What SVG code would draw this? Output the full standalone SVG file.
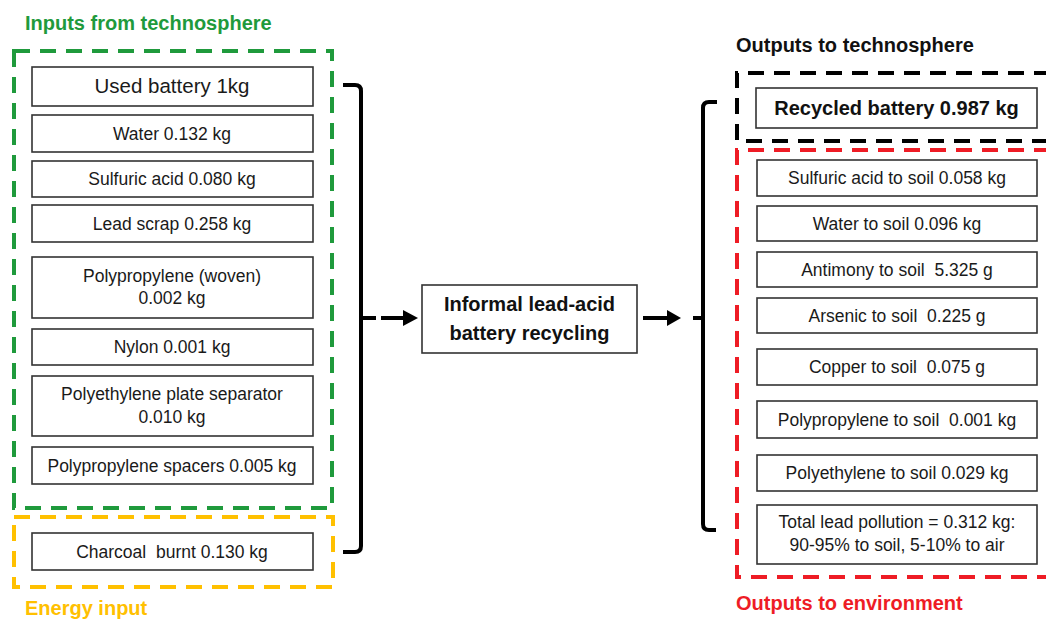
<svg xmlns="http://www.w3.org/2000/svg" width="1046" height="620" viewBox="0 0 1046 620">
<style>
.box{fill:#fff;stroke:#333;stroke-width:1.6}
.t{font-family:"Liberation Sans",Arial,sans-serif;font-size:17.5px;fill:#1a1a1a;text-anchor:middle;white-space:pre}
.b{font-family:"Liberation Sans",Arial,sans-serif;font-size:20px;font-weight:bold;text-anchor:middle;fill:#111}
.title{font-family:"Liberation Sans",Arial,sans-serif;font-size:20px;font-weight:bold}
.dash{fill:none;stroke-width:4;stroke-dasharray:16 10}
.brace{fill:none;stroke:#000;stroke-width:4}
</style>
<rect width="1046" height="620" fill="#fff"/>
<g id="frames">
<rect class="dash" x="14" y="51" width="318" height="457" stroke="#1f9a3c"/>
<rect class="dash" x="14" y="517" width="319" height="70" stroke="#ffc000"/>
<path class="dash" d="M1050,73 H737 V141 H1050" stroke="#000"/>
<path class="dash" d="M1050,150 H737 V577 H1050" stroke="#ee1c25"/>
<text class="title" x="25" y="30" fill="#1f9a3c">Inputs from technosphere</text>
<text class="title" x="25" y="615" fill="#ffc000">Energy input</text>
<text class="title" x="736" y="52" fill="#111">Outputs to technosphere</text>
<text class="title" x="736" y="610" fill="#ee1c25">Outputs to environment</text>
</g>
<g id="in-used-battery"><rect class="box" x="32" y="67" width="281" height="39"/><text class="t" x="172" y="93" style="font-size:20.5px">Used battery 1kg</text></g>
<g id="in-water"><rect class="box" x="32" y="115" width="281" height="37"/><text class="t" x="172" y="140">Water 0.132 kg</text></g>
<g id="in-sulfuric"><rect class="box" x="32" y="161" width="281" height="36"/><text class="t" x="172" y="185">Sulfuric acid 0.080 kg</text></g>
<g id="in-lead-scrap"><rect class="box" x="32" y="205" width="281" height="37"/><text class="t" x="172" y="230">Lead scrap 0.258 kg</text></g>
<g id="in-pp-woven"><rect class="box" x="32" y="257" width="281" height="61"/><text class="t" x="172" y="282">Polypropylene (woven)</text><text class="t" x="172" y="304">0.002 kg</text></g>
<g id="in-nylon"><rect class="box" x="32" y="329" width="281" height="36"/><text class="t" x="172" y="353">Nylon 0.001 kg</text></g>
<g id="in-pe-separator"><rect class="box" x="32" y="376" width="281" height="60"/><text class="t" x="172" y="400">Polyethylene plate separator</text><text class="t" x="172" y="423">0.010 kg</text></g>
<g id="in-pp-spacers"><rect class="box" x="32" y="447" width="281" height="37"/><text class="t" x="172" y="472">Polypropylene spacers 0.005 kg</text></g>
<g id="in-charcoal"><rect class="box" x="32" y="533" width="281" height="37"/><text class="t" x="172" y="558" xml:space="preserve">Charcoal  burnt 0.130 kg</text></g>
<g id="process"><rect class="box" x="422" y="285" width="215" height="68"/><text class="b" x="529.5" y="311">Informal lead-acid</text><text class="b" x="529.5" y="340">battery recycling</text></g>
<g id="out-recycled"><rect class="box" x="756" y="88" width="281" height="40"/><text class="b" x="896.5" y="115">Recycled battery 0.987 kg</text></g>
<g id="out-sulfuric"><rect class="box" x="757" y="160" width="280" height="36"/><text class="t" x="897" y="184">Sulfuric acid to soil 0.058 kg</text></g>
<g id="out-water"><rect class="box" x="757" y="206" width="280" height="35"/><text class="t" x="897" y="230">Water to soil 0.096 kg</text></g>
<g id="out-antimony"><rect class="box" x="757" y="252" width="280" height="35"/><text class="t" x="897" y="276" xml:space="preserve">Antimony to soil  5.325 g</text></g>
<g id="out-arsenic"><rect class="box" x="757" y="298" width="280" height="35"/><text class="t" x="897" y="322" xml:space="preserve">Arsenic to soil  0.225 g</text></g>
<g id="out-copper"><rect class="box" x="757" y="349" width="280" height="36"/><text class="t" x="897" y="373" xml:space="preserve">Copper to soil  0.075 g</text></g>
<g id="out-pp"><rect class="box" x="757" y="401" width="280" height="37"/><text class="t" x="897" y="426" xml:space="preserve">Polypropylene to soil  0.001 kg</text></g>
<g id="out-pe"><rect class="box" x="757" y="455" width="280" height="36"/><text class="t" x="897" y="479">Polyethylene to soil 0.029 kg</text></g>
<g id="out-lead"><rect class="box" x="757" y="505" width="280" height="59"/><text class="t" x="897" y="528">Total lead pollution = 0.312 kg:</text><text class="t" x="897" y="551">90-95% to soil, 5-10% to air</text></g>
<g id="connectors">
<path class="brace" d="M343,85 H355 Q361,85 361,91 V546 Q361,552 355,552 H343"/>
<path class="brace" d="M361,318 H376"/>
<path class="brace" d="M381,318 H404"/>
<polygon points="403,310 418,318 403,326" fill="#000"/>
<path class="brace" d="M643,318 H668"/>
<polygon points="667,310 681,318 667,326" fill="#000"/>
<path class="brace" d="M717,102 H709 Q703,102 703,108 V524 Q703,530 709,530 H716"/>
<path class="brace" d="M693,318 H703"/>
</g>
</svg>
